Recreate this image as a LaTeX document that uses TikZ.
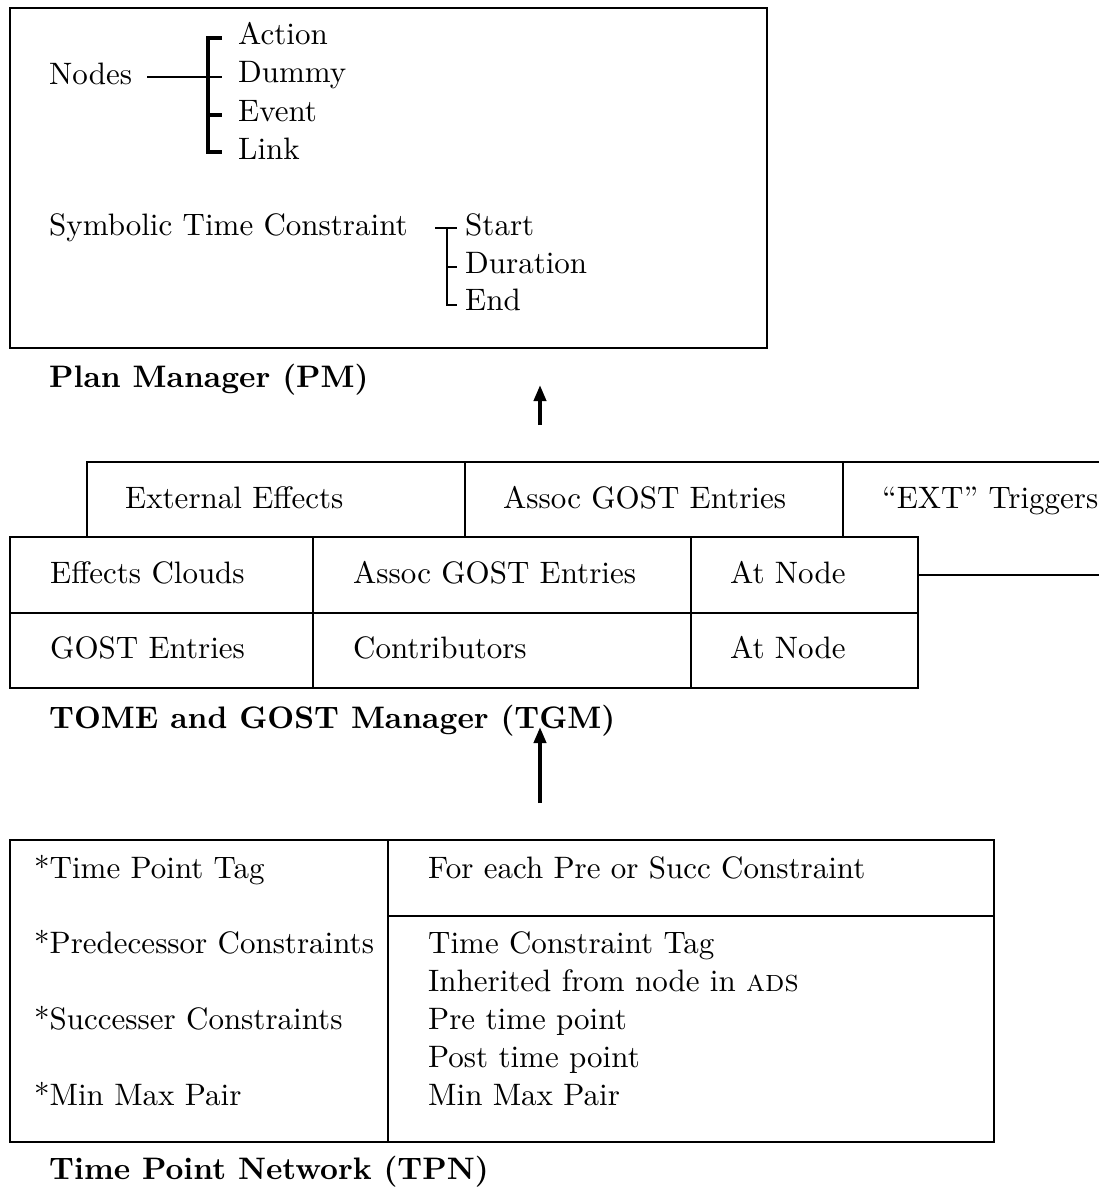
\documentclass[tikz,border=0pt]{standalone}
\usetikzlibrary{arrows.meta}
\newcommand{\Rt}[1]{\scalebox{3.1}{#1}}
\newcommand{\Bt}[1]{\scalebox{3.11}{\bfseries #1}}
\begin{document}
\begin{tikzpicture}[x=1pt,y=-1pt,
  box/.style={line width=2.7pt},
  brk/.style={line width=3.4pt},
  txt/.style={anchor=base west, inner sep=0pt, font=\fontsize{10}{12}\selectfont},
  ttl/.style={anchor=base west, inner sep=0pt, font=\fontsize{10}{12}\selectfont},
  uparrow/.style={line width=3.8pt, -{Triangle[length=16pt,width=12pt]}}]
\useasboundingbox (0,0) rectangle (1099,1188);

% ---------------- Plan Manager ----------------
\draw[box] (10,8) rectangle (767,348);
\node[txt] (nodes) at (49,85) {\Rt{Nodes}};
\node[txt] (action) at (238,45) {\Rt{Action}};
\node[txt] (dummy) at (238,83) {\Rt{Dummy}};
\node[txt] (event) at (238,122) {\Rt{Event}};
\node[txt] (link) at (238,160) {\Rt{Link}};
\coordinate (n0) at (147,77);
\coordinate (ba) at (208,38);
\coordinate (bd) at (208,77);
\coordinate (be) at (208,115);
\coordinate (bl) at (208,152);
\draw[box] (n0) -- (bd) -- +(14,0);
\draw[brk] ([xshift=14pt]ba) -- (ba) -- (bl) -- +(14,0);
\draw[brk] (be) -- +(14,0);

\node[txt] (stc) at (49,235) {\Rt{Symbolic Time Constraint}};
\node[txt] (start) at (465,235) {\Rt{Start}};
\node[txt] (dur) at (465,273) {\Rt{Duration}};
\node[txt] (end) at (465,310) {\Rt{End}};
\coordinate (s0) at (435,228);
\coordinate (ss) at (447,228);
\coordinate (sd) at (447,267);
\coordinate (se) at (447,305);
\draw[box] (s0) -- +(22,0);
\draw[box] (ss) -- (se) -- +(10,0);
\draw[box] (sd) -- +(10,0);

\node[ttl] (pm) at (49,387) {\Bt{Plan Manager (PM)}};

\coordinate (a1s) at (540,425);
\coordinate (a1e) at (540,385);
\draw[uparrow] (a1s) -- (a1e);

% ---------------- TGM ----------------
\draw[box] (87,462) rectangle (465,537);
\draw[box] (465,462) rectangle (843,537);
\draw[box] (1099,462) -- (843,462) -- (843,537);
\node[txt] (ext) at (125,508) {\Rt{External Effects}};
\node[txt] (assoc1) at (503,508) {\Rt{Assoc GOST Entries}};
\node[txt] (trig) at (882,508) {\Rt{``EXT'' Triggers}};

\draw[box] (10,537) rectangle (918,688);
\draw[box] (313,537) -- (313,688);
\draw[box] (691,537) -- (691,688);
\draw[box] (10,613) -- (918,613);
\draw[box] (918,575) -- (1099,575);
\node[txt] (clouds) at (50,583) {\Rt{Effects Clouds}};
\node[txt] (assoc2) at (353,583) {\Rt{Assoc GOST Entries}};
\node[txt] (at1) at (730,583) {\Rt{At Node}};
\node[txt] (gost) at (50,658) {\Rt{GOST Entries}};
\node[txt] (contr) at (353,658) {\Rt{Contributors}};
\node[txt] (at2) at (730,658) {\Rt{At Node}};

\node[ttl] (tgm) at (49,728) {\Bt{TOME and GOST Manager (TGM)}};

\coordinate (a2s) at (540,803);
\coordinate (a2e) at (540,727);
\draw[uparrow] (a2s) -- (a2e);

% ---------------- TPN ----------------
\draw[box] (10,840) rectangle (994,1142);
\draw[box] (388,840) -- (388,1142);
\draw[box] (388,916) -- (994,916);
\node[txt] (l1) at (34,878) {\Rt{*Time Point Tag}};
\node[txt] (l2) at (34,953) {\Rt{*Predecessor Constraints}};
\node[txt] (l3) at (34,1029) {\Rt{*Successer Constraints}};
\node[txt] (l4) at (34,1105) {\Rt{*Min Max Pair}};
\node[txt] (r0) at (428,878) {\Rt{For each Pre or Succ Constraint}};
\node[txt] (r1) at (428,953) {\Rt{Time Constraint Tag}};
\node[txt] (r2) at (428,991) {\Rt{Inherited from node in \textsc{ads}}};
\node[txt] (r3) at (428,1029) {\Rt{Pre time point}};
\node[txt] (r4) at (428,1067) {\Rt{Post time point}};
\node[txt] (r5) at (428,1105) {\Rt{Min Max Pair}};

\node[ttl] (tpn) at (49,1179) {\Bt{Time Point Network (TPN)}};
\end{tikzpicture}
\end{document}
